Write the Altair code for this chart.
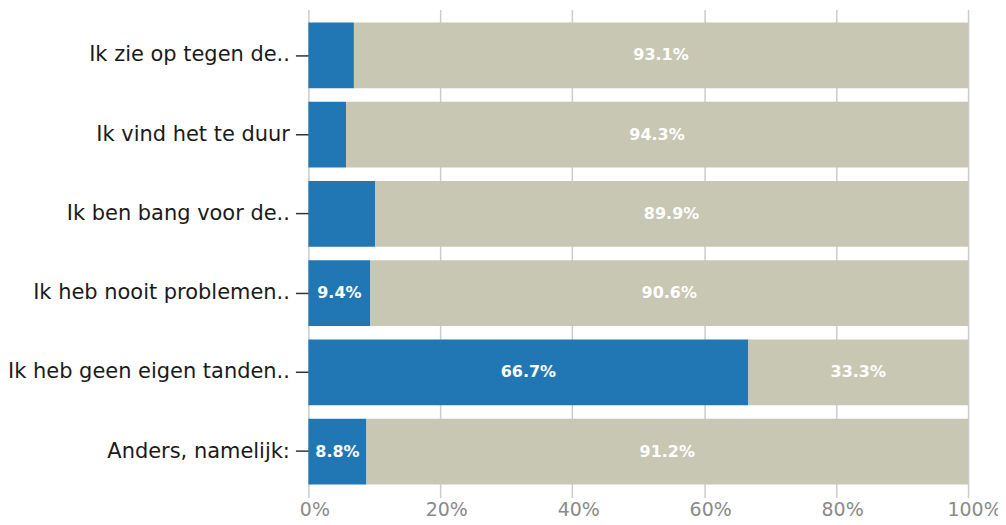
import altair as alt
import pandas as pd

categories = [
    "Ik zie op tegen de..",
    "Ik vind het te duur",
    "Ik ben bang voor de..",
    "Ik heb nooit problemen..",
    "Ik heb geen eigen tanden..",
    "Anders, namelijk:",
]
blue_values = [6.9, 5.7, 10.1, 9.4, 66.7, 8.8]
gray_values = [93.1, 94.3, 89.9, 90.6, 33.3, 91.2]
blue_label_shown = [False, False, False, True, True, True]
gray_label_shown = [True, True, True, True, True, True]
series_names = ["Ja", "Nee"]
series_colors = ["#2077b4", "#c8c7b4"]
tick_values = [0, 20, 40, 60, 80, 100]

rows = []
for i, c in enumerate(categories):
    rows.append({"cat": c, "series": series_names[0], "ord": 0, "value": blue_values[i],
                 "label": f"{blue_values[i]:.1f}%", "show": blue_label_shown[i]})
    rows.append({"cat": c, "series": series_names[1], "ord": 1, "value": gray_values[i],
                 "label": f"{gray_values[i]:.1f}%", "show": gray_label_shown[i]})
df = pd.DataFrame(rows)

FONT = "DejaVu Sans"

base = alt.Chart(df).transform_stack(
    stack="value", as_=["x0", "x1"], groupby=["cat"], sort=[alt.SortField("ord", order="ascending")]
).transform_calculate(mid="(datum.x0 + datum.x1) / 2")

y_enc = alt.Y(
    "cat:N",
    sort=categories,
    title=None,
    scale=alt.Scale(paddingInner=0.17, paddingOuter=0.165),
    axis=alt.Axis(
        domain=False,
        ticks=True,
        tickSize=13,
        tickColor="#333333",
        tickWidth=1.5,
        labelFont=FONT,
        labelFontSize=21,
        labelColor="#1a1a1a",
        labelPadding=6,
        grid=False,
        labelLimit=400,
    ),
)

bars = base.mark_bar().encode(
    y=y_enc,
    x=alt.X(
        "x0:Q",
        scale=alt.Scale(domain=[0, 100], nice=False),
        title=None,
        axis=alt.Axis(
            values=tick_values,
            labelExpr="datum.value + '%'",
            domain=False,
            ticks=False,
            grid=True,
            gridColor="#cccccc",
            gridWidth=1.5,
            labelFont=FONT,
            labelFontSize=19,
            labelColor="#8a8a8a",
            labelPadding=3,
            labelOffset=6,
            labelFlush=False,
        ),
    ),
    x2="x1:Q",
    color=alt.Color("series:N", scale=alt.Scale(domain=series_names, range=series_colors), legend=None),
)

texts = base.transform_filter("datum.show").mark_text(
    font=FONT, fontSize=16, fontWeight="bold", color="#ffffff", align="center", baseline="middle"
).encode(
    y=alt.Y("cat:N", sort=categories),
    x=alt.X("mid:Q"),
    text="label:N",
)

chart = alt.layer(bars, texts).properties(
    width=661,
    height=489,
    autosize=alt.AutoSizeParams(type="none"),
    padding={"left": 301, "top": 1, "right": 30, "bottom": 26},
).configure_view(stroke=None)

chart.save("out.html", embed_options={"renderer": "svg", "actions": False})
